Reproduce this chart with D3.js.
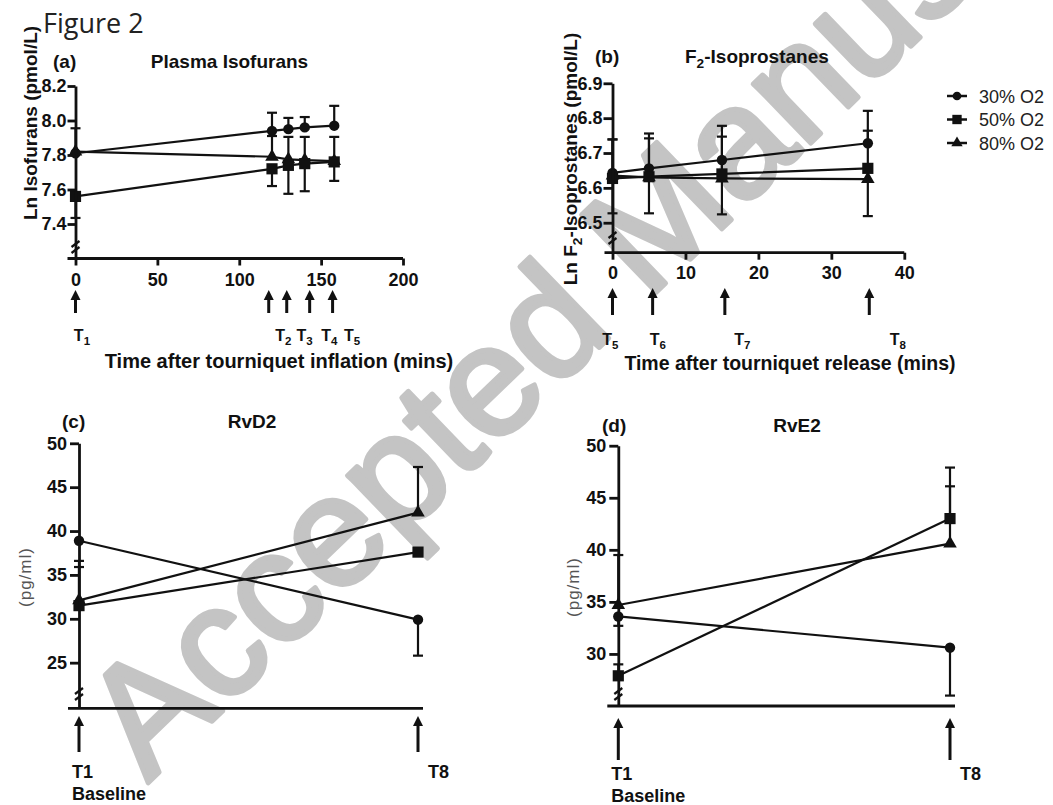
<!DOCTYPE html>
<html lang="en">
<head>
<meta charset="UTF-8">
<title>Figure 2</title>
<script src="https://cdn.jsdelivr.net/npm/d3@7"></script>
<style>
  body { margin: 0; background: #fff; }
  svg { display: block; font-family: "Liberation Sans", Arial, sans-serif; }
  .axis path, .axis line { stroke: #111; stroke-width: 2.8; }
  .axis text { font-size: 18px; font-weight: bold; fill: #111; }
  .bold { font-weight: bold; fill: #111; }
</style>
</head>
<body>
<svg id="fig" width="1053" height="805"></svg>
<script>
// ---- values ----
const seriesNames = ["30% O2", "50% O2", "80% O2"];

// (a) plasma isofurans, ln(pmol/L), minutes after tourniquet inflation
const isoTimes = [0, 120, 130, 140, 158];
const iso30 = [7.81, 7.94, 7.95, 7.96, 7.97];
const iso50 = [7.56, 7.72, 7.74, 7.75, 7.76];
const iso80 = [7.82, 7.79, 7.775, 7.77, 7.765];
const iso30Err = [0.145, 0.105, 0.065, 0.06, 0.115];
const iso50Err = [0.125, 0.10, 0.165, 0.16, 0.11];
const iso80Err = [0, 0.12, 0.13, 0.135, 0.14];
const isoTicksX = [0, 50, 100, 150, 200];
const isoTicksY = [7.4, 7.6, 7.8, 8.0, 8.2];
const isoArrows = [0, 118, 129, 143, 157];
const isoLabels = ["1", "2", "3", "4", "5"];
const isoLabelAt = [-1, 122, 135, 150, 164];

// (b) F2-isoprostanes, ln(pmol/L), minutes after tourniquet release
const f2Times = [0, 5, 15, 35];
const f2iso30 = [6.643, 6.656, 6.68, 6.728];
const f2iso50 = [6.627, 6.632, 6.64, 6.656];
const f2iso80 = [6.635, 6.63, 6.627, 6.625];
const f2iso30Err = [0.096, 0.1, 0.098, 0.093];
const f2iso50Err = [0.112, 0.11, 0.107, 0.108];
const f2iso80Err = [0.108, 0.103, 0.103, 0.106];
const f2TicksX = [0, 10, 20, 30, 40];
const f2TicksY = [6.5, 6.6, 6.7, 6.8, 6.9];
const f2Arrows = [0, 5.5, 15.4, 35.2];
const f2Labels = ["5", "6", "7", "8"];
const f2LabelAt = [-1.4, 5.1, 16.7, 38];

// (c) RvD2 and (d) RvE2, pg/ml at T1 (baseline) and T8
const timepoints = ["T1", "T8"];
const rvd30 = [38.9, 29.9];
const rvd50 = [31.5, 37.6];
const rvd80 = [32.1, 42.1];
const rvd30Err = [0, 4.1];
const rvd50Err = [4.4, 0];
const rvd80Err = [4.5, 5.2];
const rve30 = [33.6, 30.6];
const rve50 = [27.9, 43.0];
const rve80 = [34.7, 40.6];
const rve30Err = [0.9, 4.6];
const rve50Err = [1.1, 4.9];
const rve80Err = [4.8, 5.5];
const rvTicksY = [25, 30, 35, 40, 45, 50];
const rveTicksY = [30, 35, 40, 45, 50];

const svg = d3.select("#fig");
const symbols = [d3.symbolCircle, d3.symbolSquare, d3.symbolTriangle];
const symbolSize = [85, 125, 80];

// watermark behind everything
svg.append("text")
    .attr("transform", "translate(148,783) rotate(-44)")
    .attr("font-size", 156)
    .attr("fill", "#c4c4c4")
    .attr("stroke", "#c4c4c4")
    .attr("stroke-width", 5)
    .attr("stroke-linejoin", "round")
    .text("Accepted Manuscript");

svg.append("text")
    .attr("x", 43).attr("y", 33)
    .attr("font-family", "'Open Sans', sans-serif")
    .attr("font-size", 27)
    .attr("fill", "#222")
    .text("Figure 2");

function boldText(x, y, str, size, anchor) {
    return svg.append("text").attr("class", "bold")
        .attr("x", x).attr("y", y)
        .attr("font-size", size)
        .attr("text-anchor", anchor || "start")
        .text(str);
}

function subText(x, y, main, sub, rest, size, anchor) {
    const t = boldText(x, y, main, size, anchor);
    t.append("tspan").attr("font-size", size * 0.72).attr("dy", size * 0.28).text(sub);
    if (rest) t.append("tspan").attr("dy", -size * 0.28).text(rest);
    return t;
}

function arrow(x, yTip, yBase) {
    svg.append("line")
        .attr("x1", x).attr("x2", x)
        .attr("y1", yTip + 6).attr("y2", yBase)
        .attr("stroke", "#111").attr("stroke-width", 3);
    svg.append("path")
        .attr("d", `M${x - 5},${yTip + 10}L${x},${yTip}L${x + 5},${yTip + 10}Z`)
        .attr("fill", "#111");
}

function axisBreak(x, y) {
    [-3, 3].forEach(k => {
        svg.append("line")
            .attr("x1", x - 4).attr("y1", y + k + 3)
            .attr("x2", x + 4).attr("y2", y + k - 3)
            .attr("stroke", "#111").attr("stroke-width", 2.2);
    });
}

// draws error bars, lines and markers of the three groups
function drawSeries(xs, y, series) {
    const g = svg.append("g");
    series.forEach(s => {
        s.values.forEach((v, i) => {
            const e = s.err[i];
            if (!e) return;
            const end = s.dir === "up" ? v + e : v - e;
            const px = xs[i];
            g.append("line").attr("x1", px).attr("x2", px)
                .attr("y1", y(v)).attr("y2", y(end))
                .attr("stroke", "#111").attr("stroke-width", 2.2);
            g.append("line").attr("x1", px - 5).attr("x2", px + 5)
                .attr("y1", y(end)).attr("y2", y(end))
                .attr("stroke", "#111").attr("stroke-width", 2.2);
        });
    });
    series.forEach(s => {
        g.append("path")
            .datum(s.values)
            .attr("fill", "none")
            .attr("stroke", "#111")
            .attr("stroke-width", 2.2)
            .attr("d", d3.line().x((d, i) => xs[i]).y(d => y(d)));
    });
    series.forEach(s => {
        g.selectAll(null).data(s.values).enter().append("path")
            .attr("transform", (d, i) => `translate(${xs[i]},${y(d)})`)
            .attr("d", d3.symbol().type(symbols[s.k]).size(symbolSize[s.k]))
            .attr("fill", "#111");
    });
}

// ---------- (a) Plasma Isofurans ----------
{
    const x = d3.scaleLinear().domain([0, 200]).range([75.5, 403]);
    const y = d3.scaleLinear().domain([7.2, 8.2]).range([258.5, 86]);
    drawSeries(isoTimes.map(x), y, [
        { k: 0, values: iso30, err: iso30Err, dir: "up" },
        { k: 2, values: iso80, err: iso80Err, dir: "up" },
        { k: 1, values: iso50, err: iso50Err, dir: "down" }
    ]);
    svg.append("g").attr("class", "axis")
        .attr("transform", `translate(${x(0)},0)`)
        .call(d3.axisLeft(y).tickValues(isoTicksY).tickFormat(d3.format(".1f"))
            .tickSize(8).tickPadding(1).tickSizeOuter(0));
    const xa = svg.append("g").attr("class", "axis")
        .attr("transform", `translate(0,${y(7.2)})`)
        .call(d3.axisBottom(x).tickValues(isoTicksX).tickSize(7).tickPadding(8));
    xa.select(".domain").remove();
    xa.append("line").attr("x1", x(0) - 8).attr("x2", x(200));
    axisBreak(x(0), 247);
    isoArrows.forEach(t => arrow(x(t), 290, 313));
    isoLabels.forEach((n, i) => subText(x(isoLabelAt[i]), 341, "T", n, null, 16));
    boldText(279, 368, "Time after tourniquet inflation  (mins)", 20, "middle");
    boldText(53, 68, "(a)", 19);
    boldText(229.5, 68, "Plasma Isofurans", 19, "middle");
    boldText(0, 0, "Ln Isofurans (pmol/L)", 19, "middle")
        .attr("transform", "translate(37,123) rotate(-90)");
}

// ---------- (b) F2-Isoprostanes ----------
{
    const x = d3.scaleLinear().domain([0, 40]).range([612.5, 904.3]);
    const y = d3.scaleLinear().domain([6.414, 6.9]).range([252.7, 83.3]);
    drawSeries(f2Times.map(x), y, [
        { k: 0, values: f2iso30, err: f2iso30Err, dir: "up" },
        { k: 2, values: f2iso80, err: f2iso80Err, dir: "down" },
        { k: 1, values: f2iso50, err: f2iso50Err, dir: "up" }
    ]);
    svg.append("g").attr("class", "axis")
        .attr("transform", `translate(${x(0)},0)`)
        .call(d3.axisLeft(y).tickValues(f2TicksY).tickFormat(d3.format(".1f"))
            .tickSize(9).tickPadding(1).tickSizeOuter(0));
    const xa = svg.append("g").attr("class", "axis")
        .attr("transform", `translate(0,${y(6.414)})`)
        .call(d3.axisBottom(x).tickValues(f2TicksX).tickSize(7).tickPadding(7));
    xa.select(".domain").remove();
    xa.append("line").attr("x1", x(0) - 8).attr("x2", x(40));
    axisBreak(x(0), 238);
    f2Arrows.forEach(t => arrow(x(t), 288, 315));
    f2Labels.forEach((n, i) => subText(x(f2LabelAt[i]), 345, "T", n, null, 16));
    boldText(790, 370, "Time after tourniquet release (mins)", 19.5, "middle");
    boldText(595, 63, "(b)", 19);
    subText(685, 63, "F", "2", "-Isoprostanes", 19);
    subText(0, 0, "Ln F", "2", "-Isoprostanes (pmol/L)", 19, "middle")
        .attr("transform", "translate(577,159) rotate(-90)");
}

// ---------- (c) RvD2 and (d) RvE2 ----------
function resolvinPanel(p) {
    const x = d3.scalePoint().domain(timepoints).range(p.xRange);
    const y = d3.scaleLinear().domain(p.yDomain).range(p.yRange);
    drawSeries(timepoints.map(x), y, p.series);
    svg.append("g").attr("class", "axis")
        .attr("transform", `translate(${x("T1")},0)`)
        .call(d3.axisLeft(y).tickValues(p.ticks).tickSize(9).tickPadding(3).tickSizeOuter(0));
    svg.append("line")
        .attr("x1", x("T1") - 11).attr("x2", x("T8") + 5)
        .attr("y1", y(p.yDomain[0])).attr("y2", y(p.yDomain[0]))
        .attr("stroke", "#111").attr("stroke-width", 2.8);
    axisBreak(x("T1"), 694);
    timepoints.forEach(t => arrow(x(t), p.arrowY[0], p.arrowY[1]));
    boldText(x("T1") - 7, p.labelY, "T1", 18);
    boldText(x("T8") + 10, p.labelY, "T8", 18);
    boldText(x("T1") - 7, p.labelY + 22, "Baseline", 18);
    boldText(p.letterX, p.titleY, p.letter, 19);
    boldText(p.titleX, p.titleY, p.title, 19, "middle");
    svg.append("text")
        .attr("transform", `translate(${p.unitPos}) rotate(-90)`)
        .attr("text-anchor", "middle")
        .attr("font-size", 17).attr("letter-spacing", 1).attr("fill", "#555")
        .text("(pg/ml)");
}

resolvinPanel({
    xRange: [79, 418], yDomain: [19.8, 50], yRange: [708.3, 443.3], ticks: rvTicksY,
    series: [
        { k: 0, values: rvd30, err: rvd30Err, dir: "down" },
        { k: 2, values: rvd80, err: rvd80Err, dir: "up" },
        { k: 1, values: rvd50, err: rvd50Err, dir: "up" }
    ],
    arrowY: [716, 752], labelY: 778,
    letter: "(c)", letterX: 62, title: "RvD2", titleX: 252, titleY: 428, unitPos: "31,577"
});

resolvinPanel({
    xRange: [618.3, 950], yDomain: [25, 50], yRange: [706, 445.7], ticks: rveTicksY,
    series: [
        { k: 0, values: rve30, err: rve30Err, dir: "down" },
        { k: 2, values: rve80, err: rve80Err, dir: "up" },
        { k: 1, values: rve50, err: rve50Err, dir: "up" }
    ],
    arrowY: [718, 760], labelY: 780,
    letter: "(d)", letterX: 602, title: "RvE2", titleX: 797, titleY: 432, unitPos: "579,587"
});

// ---------- legend ----------
const legend = svg.append("g");
seriesNames.forEach((name, k) => {
    const ly = 96 + k * 23.5;
    legend.append("line").attr("x1", 947).attr("x2", 967)
        .attr("y1", ly).attr("y2", ly)
        .attr("stroke", "#111").attr("stroke-width", 2.5);
    legend.append("path")
        .attr("transform", `translate(957,${ly})`)
        .attr("d", d3.symbol().type(symbols[k]).size(symbolSize[k] * 0.7))
        .attr("fill", "#111");
    legend.append("text")
        .attr("x", 979).attr("y", ly + 6.5)
        .attr("font-size", 18).attr("fill", "#222")
        .text(name);
});
</script>
</body>
</html>
